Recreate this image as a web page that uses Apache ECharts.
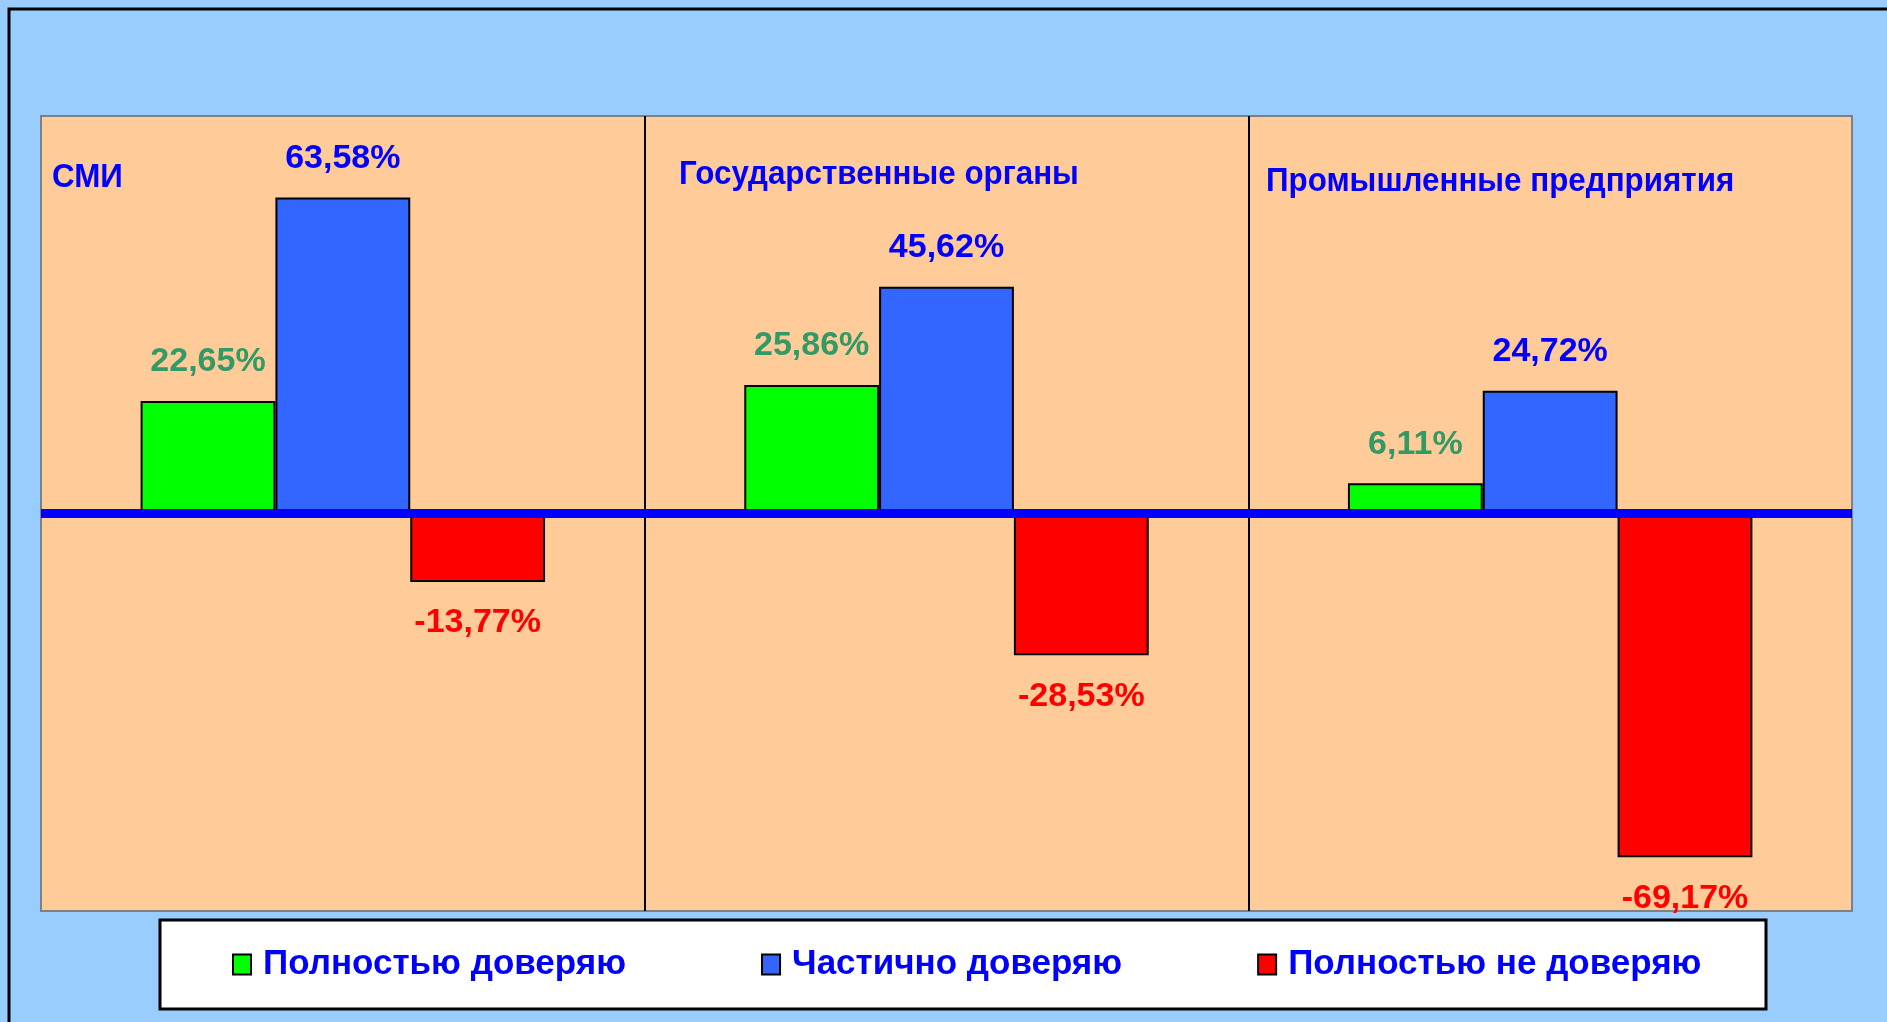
<!DOCTYPE html>
<html>
<head>
<meta charset="utf-8">
<script src="https://cdn.jsdelivr.net/npm/echarts@6/dist/echarts.min.js"></script>
<style>
  html, body { margin: 0; padding: 0; background: #99CCFF; }
  #main { width: 1887px; height: 1022px; }
</style>
</head>
<body>
<div id="main"></div>
<script>
const categories = ['СМИ', 'Государственные органы', 'Промышленные предприятия'];
const seriesNames = ['Полностью доверяю', 'Частично доверяю', 'Полностью не доверяю'];
const fullTrust = [22.65, 25.86, 6.11];
const partialTrust = [63.58, 45.62, 24.72];
const noTrust = [-13.77, -28.53, -69.17];

const FONT = "'Liberation Sans', Arial, sans-serif";
const barColors = ['#00FF00', '#3366FF', '#FF0000'];
const labelColors = ['#339966', '#0000FF', '#FF0000'];

// positions of the category captions inside the plot
const titlePos = [
  { x: 52, y: 178 },
  { x: 679, y: 175 },
  { x: 1266, y: 182 },
];

function fmt(p) {
  return p.value.toFixed(2).replace('.', ',') + '%';
}

function makeSeries(name, data, i, pos) {
  return {
    name: name,
    type: 'bar',
    data: data,
    barGap: '0%',
    barCategoryGap: '33%',
    itemStyle: {
      color: barColors[i],
      borderColor: '#000000',
      borderWidth: 2,
    },
    label: {
      show: true,
      position: pos,
      distance: pos == 'top' ? 22 : 24,
      formatter: fmt,
      color: labelColors[i],
      fontFamily: FONT,
      fontWeight: 'bold',
      fontSize: 34,
    },
  };
}

var chartDom = document.getElementById('main');
var myChart = echarts.init(chartDom);

var option = {
  backgroundColor: '#99CCFF',
  animation: false,
  graphic: [
    {
      type: 'rect',
      z: -10,
      shape: { x: 9, y: 9, width: 1950, height: 1100 },
      style: { fill: '#99CCFF', stroke: '#000000', lineWidth: 3 },
    },
    {
      type: 'rect',
      z: 1,
      shape: { x: 160, y: 920, width: 1606, height: 89 },
      style: { fill: '#FFFFFF', stroke: '#000000', lineWidth: 3 },
    },
  ].concat(categories.map((c, i) => ({
    type: 'text',
    z: 10,
    x: titlePos[i].x,
    y: titlePos[i].y,
    scaleX: 0.95,
    style: {
      text: c,
      fill: '#0000FF',
      font: 'bold 33px ' + FONT,
      verticalAlign: 'middle',
    },
  }))),
  legend: {
    left: 232,
    top: 947,
    z: 5,
    padding: 0,
    itemWidth: 18,
    itemHeight: 20,
    itemGap: 135,
    icon: 'rect',
    itemStyle: { borderColor: '#000000', borderWidth: 2 },
    textStyle: {
      color: '#0000FF',
      fontFamily: FONT,
      fontWeight: 'bold',
      fontSize: 35,
      padding: [0, 0, 0, 7],
    },
    data: seriesNames,
  },
  grid: {
    left: 41,
    top: 116,
    right: 35,
    bottom: 111,
    show: true,
    backgroundColor: '#FFCC99',
    borderColor: '#808080',
    borderWidth: 2,
  },
  xAxis: {
    type: 'category',
    data: categories,
    z: 5,
    axisLine: {
      show: true,
      onZero: true,
      lineStyle: { color: '#0000FF', width: 9, cap: 'butt' },
    },
    axisTick: { show: false },
    axisLabel: { show: false },
    splitLine: {
      show: true,
      showMinLine: false,
      showMaxLine: false,
      lineStyle: { color: '#000000', width: 2 },
    },
  },
  yAxis: {
    type: 'value',
    min: -80,
    max: 80,
    axisLine: { show: false },
    axisTick: { show: false },
    axisLabel: { show: false },
    splitLine: { show: false },
  },
  series: [
    makeSeries(seriesNames[0], fullTrust, 0, 'top'),
    makeSeries(seriesNames[1], partialTrust, 1, 'top'),
    makeSeries(seriesNames[2], noTrust, 2, 'bottom'),
  ],
};

option && myChart.setOption(option);
</script>
</body>
</html>
